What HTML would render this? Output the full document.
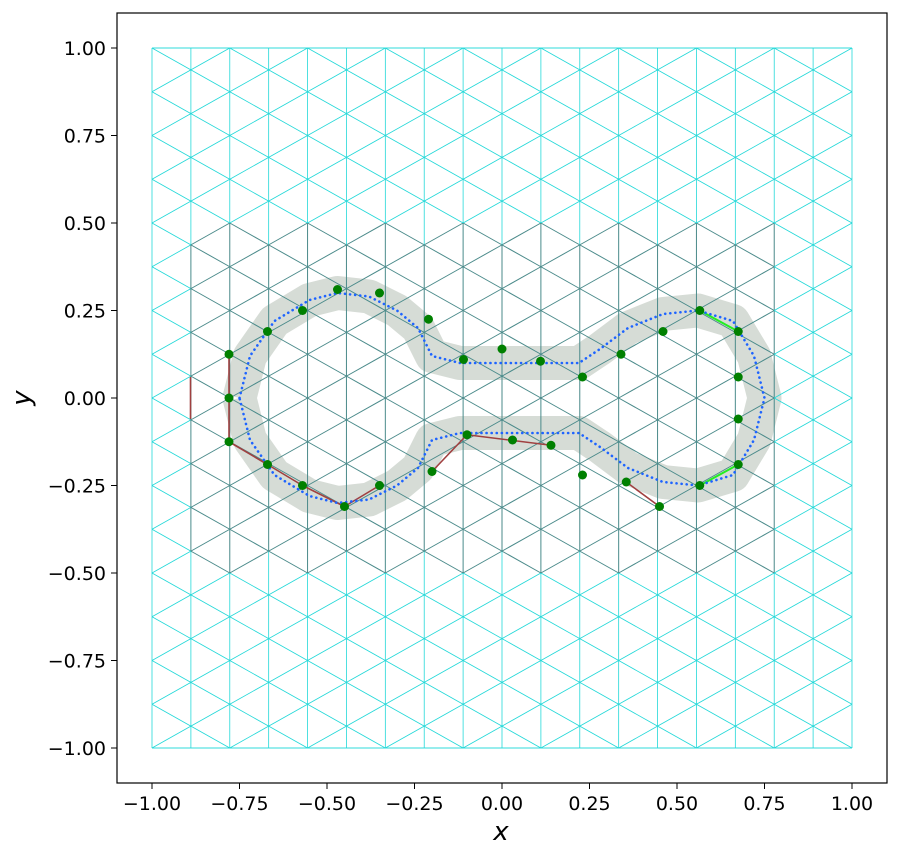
<!DOCTYPE html>
<html><head><meta charset="utf-8"><style>
body{margin:0;background:#fff;}
svg{display:block;font-family:"DejaVu Sans","Liberation Sans",sans-serif;}
</style></head><body>
<svg id="chart" width="900" height="856" xmlns="http://www.w3.org/2000/svg">
<rect x="0" y="0" width="900" height="856" fill="#fff"/>
<g id="band"></g>
<g id="mesh"></g>
<g id="special"></g>
<g id="curve"></g>
<g id="pts"></g>
<rect x="117" y="13" width="770" height="770" fill="none" stroke="#000" stroke-width="1.2"/>
<g id="axes"></g>
<text x="501" y="840" font-size="26" font-style="italic" text-anchor="middle">x</text>
<text x="30" y="398" font-size="26" font-style="italic" text-anchor="middle" transform="rotate(-90 30 398)">y</text>
</svg>
<script>
const xTicks=[-1,-0.75,-0.5,-0.25,0,0.25,0.5,0.75,1];
const yTicks=[-1,-0.75,-0.5,-0.25,0,0.25,0.5,0.75,1];
const nodeX=[-0.78,-0.67,-0.57,-0.47,-0.35,-0.21,-0.11,0,0.11,0.23,0.34,0.46,0.565,0.675,0.675,0.675,0.675,0.565,0.45,0.355,0.23,0.14,0.03,-0.1,-0.2,-0.35,-0.45,-0.57,-0.67,-0.78,-0.78];
const nodeY=[0.125,0.19,0.25,0.31,0.30,0.225,0.11,0.14,0.105,0.06,0.125,0.19,0.25,0.19,0.06,-0.06,-0.19,-0.25,-0.31,-0.24,-0.22,-0.135,-0.12,-0.105,-0.21,-0.25,-0.31,-0.25,-0.19,-0.125,0];
const curveX=[-0.75,-0.72,-0.65,-0.55,-0.47,-0.38,-0.3,-0.24,-0.2,-0.12,0,0.12,0.22,0.28,0.36,0.46,0.56,0.66,0.72,0.75,0.72,0.66,0.56,0.46,0.36,0.28,0.22,0.12,0,-0.12,-0.2,-0.24,-0.3,-0.38,-0.47,-0.55,-0.65,-0.72,-0.75];
const curveY=[0,0.12,0.22,0.28,0.3,0.29,0.25,0.2,0.12,0.1,0.1,0.1,0.1,0.14,0.2,0.24,0.25,0.22,0.12,0,-0.12,-0.22,-0.25,-0.24,-0.2,-0.14,-0.1,-0.1,-0.1,-0.1,-0.12,-0.2,-0.25,-0.29,-0.3,-0.28,-0.22,-0.12,0];
const NS="http://www.w3.org/2000/svg";
const sx=v=>502+v*350, sy=v=>398-v*350;
function mk(tag,attrs,parent){const e=document.createElementNS(NS,tag);for(const k in attrs)e.setAttribute(k,attrs[k]);parent.appendChild(e);return e;}
const mesh=document.getElementById('mesh');
const cols=[];
for(let i=-9;i<=9;i++){const x=i/9;const ys=[];
  if(Math.abs(i)%2===1){for(let k=-8;k<=8;k++)ys.push(k*0.125);}
  else{ys.push(-1);for(let k=-8;k<8;k++)ys.push((k+0.5)*0.125);ys.push(1);}
  cols.push({x,ys});}
function dark(x1,y1,x2,y2){const mx=(x1+x2)/2,my=(y1+y2)/2;return mx>-0.92&&mx<0.8&&Math.abs(my)<0.48;}
function edge(x1,y1,x2,y2){const d=dark(x1,y1,x2,y2);
  const l=mk('line',{x1:sx(x1),y1:sy(y1),x2:sx(x2),y2:sy(y2),stroke:d?'#4a8a8a':'#22d8d8','stroke-width':d?1:0.8},mesh);
  
  }
cols.forEach((c,ci)=>{
  for(let j=0;j<c.ys.length-1;j++)edge(c.x,c.ys[j],c.x,c.ys[j+1]);
  if(ci<cols.length-1){const n=cols[ci+1];
    c.ys.forEach(a=>n.ys.forEach(b=>{if(Math.abs(a-b)<=0.0626&&!(Math.abs(a)===1&&Math.abs(b)===1&&a!==b))edge(c.x,a,n.x,b);}));
    edge(c.x,1,n.x,1);edge(c.x,-1,n.x,-1);}
});
const band=document.getElementById('band');
let dpath='';curveX.forEach((v,i)=>{dpath+=(i?'L':'M')+sx(v)+','+sy(curveY[i]);});
const bp=mk('path',{d:dpath,fill:'none',stroke:'#d6dcd6','stroke-width':34,'stroke-linejoin':'round'},band);


const sp=document.getElementById('special');
const red=[[-0.78,0.125,-0.78,-0.125],[-0.78,-0.125,-0.67,-0.19],[-0.67,-0.19,-0.57,-0.25],[-0.57,-0.25,-0.45,-0.31],[-0.45,-0.31,-0.35,-0.25],[-0.2,-0.21,-0.1,-0.105],[-0.1,-0.105,0.14,-0.135],[0.355,-0.24,0.45,-0.31],[-0.89,0.06,-0.89,-0.06]];
red.forEach(s=>{const l=mk('line',{x1:sx(s[0]),y1:sy(s[1]),x2:sx(s[2]),y2:sy(s[3]),stroke:'#a04040','stroke-width':1.6},sp);
  
  });
[[0.565,0.25,0.675,0.19],[0.565,-0.25,0.675,-0.19]].forEach(s=>{const l=mk('line',{x1:sx(s[0]),y1:sy(s[1]),x2:sx(s[2]),y2:sy(s[3]),stroke:'#22ee22','stroke-width':2},sp);
  
  });
const cp=mk('path',{d:dpath,fill:'none',stroke:'#1e64ff','stroke-width':2.6,'stroke-dasharray':'0.1 5','stroke-linecap':'round'},document.getElementById('curve'));


const pts=document.getElementById('pts');
nodeX.forEach((v,i)=>{const c=mk('circle',{cx:sx(v),cy:sy(nodeY[i]),r:4.5,fill:'#008000'},pts);
  
  });
const ax=document.getElementById('axes');
const fmt=v=>(v<0?'\u2212':'')+Math.abs(v).toFixed(2);
xTicks.forEach(v=>{const t=mk('line',{x1:sx(v),y1:783,x2:sx(v),y2:789,stroke:'#000'},ax);
  
  
  const tx=mk('text',{x:sx(v),y:810,'font-size':19,'text-anchor':'middle'},ax);tx.textContent=fmt(v);
  
  });
yTicks.forEach(v=>{const t=mk('line',{x1:111,y1:sy(v),x2:117,y2:sy(v),stroke:'#000'},ax);
  
  
  const tx=mk('text',{x:106,y:sy(v)+7,'font-size':19,'text-anchor':'end'},ax);tx.textContent=fmt(v);
  
  });
</script>
</body></html>
